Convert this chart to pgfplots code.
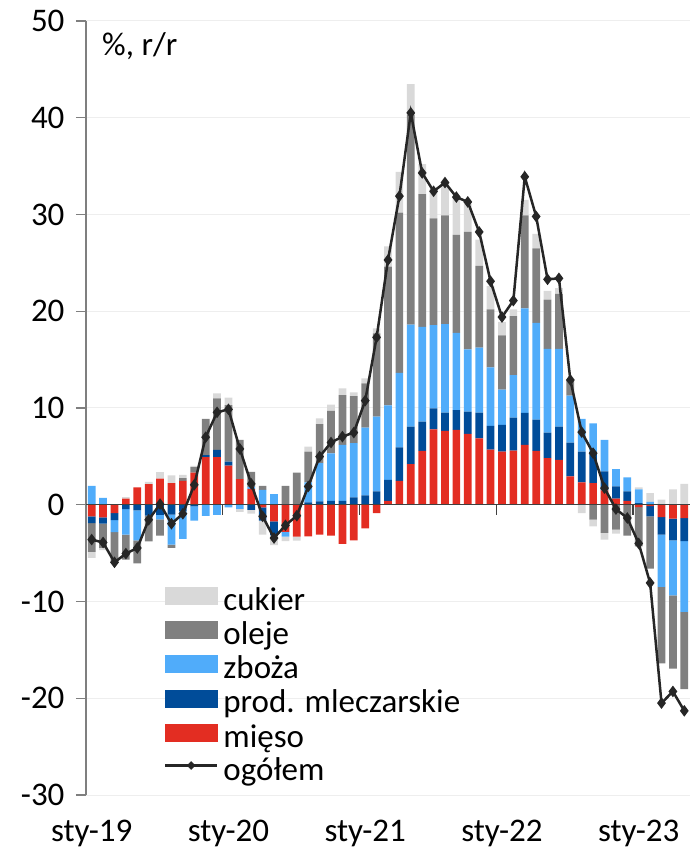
\documentclass[border=0pt]{standalone}
\usepackage{fontspec}
\setmainfont{Carlito}
\usepackage{pgfplots}
\usepackage{pgfplotstable}
\pgfplotsset{compat=1.18}
\definecolor{cukier}{HTML}{D9D9D9}
\definecolor{oleje}{HTML}{808080}
\definecolor{zboza}{HTML}{50ACFA}
\definecolor{mlecz}{HTML}{004C99}
\definecolor{mieso}{HTML}{E32D22}
\definecolor{linec}{HTML}{262626}
\definecolor{gridc}{HTML}{EEEEEE}
\definecolor{axisc}{HTML}{7F7F7F}
\definecolor{zeroc}{HTML}{404040}

\pgfplotstableread{
i m d c o s t
0 -1.20 -0.69 1.96 -2.99 -0.62 -3.60
1 -1.30 -0.65 0.72 -2.50 -0.24 -3.90
2 -0.86 -0.72 -1.24 -3.10 0.00 -5.95
3 0.62 -0.45 -2.65 -2.58 0.17 -5.05
4 1.79 -0.58 -3.09 -2.40 0.00 -4.47
5 2.13 -1.13 0.00 -2.65 0.24 -1.55
6 2.71 -1.05 -0.45 -1.70 0.67 0.07
7 2.23 -1.03 -3.09 -0.34 0.80 -1.96
8 2.47 -0.69 -2.85 0.27 0.34 -0.93
9 3.33 -0.17 -1.48 0.55 0.14 2.06
10 4.91 0.22 -1.15 3.75 0.00 6.98
11 4.91 0.76 -1.05 5.33 0.52 9.55
12 4.05 0.40 -0.27 5.84 0.79 9.86
13 2.65 0.00 -0.43 4.05 -0.30 5.77
14 1.65 -0.52 0.20 1.55 -0.41 2.16
15 -0.27 -1.36 1.55 0.41 -1.46 -1.20
16 -1.72 -1.45 1.10 0.00 -1.00 -3.44
17 -2.80 0.00 -0.50 1.96 -0.45 -2.13
18 -3.30 0.00 0.00 3.33 -0.40 -1.13
19 -3.26 0.24 2.06 3.20 0.52 1.89
20 -3.09 0.34 3.95 4.05 0.58 4.98
21 -3.20 0.41 4.90 4.40 0.65 6.43
22 -4.05 0.41 5.77 5.15 0.69 7.04
23 -3.68 0.76 5.60 4.88 0.38 7.46
24 -2.44 0.96 7.01 4.57 0.52 10.76
25 -0.86 1.37 7.73 8.60 0.52 17.30
26 0.41 2.16 7.70 14.33 2.10 25.30
27 2.47 3.47 7.70 16.56 4.20 31.90
28 4.19 3.89 10.55 21.67 3.17 40.50
29 5.57 3.02 9.79 13.72 3.10 34.30
30 7.80 2.17 8.59 11.04 3.05 32.40
31 7.63 1.89 9.14 11.24 3.40 33.30
32 7.73 2.06 7.98 10.13 3.90 31.80
33 7.32 2.30 6.43 12.15 2.90 31.30
34 6.85 2.67 6.73 8.45 2.70 28.20
35 5.70 2.44 6.06 6.00 2.40 23.10
36 5.50 2.75 3.65 5.60 1.40 19.40
37 5.60 3.40 4.40 6.10 0.70 21.10
38 6.20 3.30 10.80 9.60 1.60 33.90
39 5.57 3.23 10.00 7.70 1.50 29.80
40 4.81 2.65 8.64 5.10 0.90 23.30
41 4.64 3.44 8.02 5.70 0.60 23.40
42 2.92 3.51 4.84 1.63 0.00 12.90
43 2.30 3.20 3.37 0.00 -0.86 7.50
44 2.23 3.27 2.92 -1.55 -0.69 5.33
45 1.48 1.96 3.26 -2.92 -0.69 1.72
46 0.62 1.27 1.79 -2.58 -0.41 -0.45
47 0.41 0.96 1.45 -3.20 0.00 -1.37
48 -0.24 0.17 1.43 -4.05 0.20 -4.00
49 -0.15 -1.05 0.30 -5.40 0.90 -8.08
50 -1.27 -1.82 -5.40 -7.90 0.52 -20.50
51 -1.44 -2.23 -5.70 -7.56 1.60 -19.30
52 -1.37 -2.40 -7.30 -8.00 2.16 -21.30
}\data

\newcommand\boxleg[1]{\addlegendimage{legend image code/.code={\fill[#1] (0pt,0.5pt) rectangle (52pt,17.5pt);}}}
\newcommand\bigfont{\fontsize{33}{40}\selectfont}

\begin{document}
\begin{tikzpicture}
\pgfplotsset{base/.style={scale only axis, width=604pt, height=774pt,
  xmin=-0.5, xmax=52.5, ymin=-30, ymax=50, at={(0pt,0pt)}, anchor=south west}}
% positive parts
\begin{axis}[base, ybar stacked, bar width=7.7pt,
  axis lines*=left, x axis line style={draw=none},
  y axis line style={axisc, line width=1.2pt},
  xtick={0,12,24,36,48}, xticklabels={sty-19,sty-20,sty-21,sty-22,sty-23},
  xtick style={draw=none},
  ytick={-30,-20,-10,0,10,20,30,40,50},
  yticklabels={-30,-20,-10,0,10,20,30,40,50},
  ytick style={axisc, line width=1.2pt},
  tick align=outside, major tick length=10pt,
  ymajorgrids, major grid style={gridc, line width=1pt},
  tick label style={font=\bigfont, text=black},
  yticklabel style={xshift=-8pt},
  xticklabel style={yshift=-12pt},
  ]
\addplot[fill=mieso, draw=none] table[x=i, y expr={max(\thisrow{m},0)}]{\data};
\addplot[fill=mlecz, draw=none] table[x=i, y expr={max(\thisrow{d},0)}]{\data};
\addplot[fill=zboza, draw=none] table[x=i, y expr={max(\thisrow{c},0)}]{\data};
\addplot[fill=oleje, draw=none] table[x=i, y expr={max(\thisrow{o},0)}]{\data};
\addplot[fill=cukier, draw=none] table[x=i, y expr={max(\thisrow{s},0)}]{\data};
\end{axis}
% negative parts
\begin{axis}[base, ybar stacked, bar width=7.7pt, hide axis]
\addplot[fill=mieso, draw=none] table[x=i, y expr={min(\thisrow{m},0)}]{\data};
\addplot[fill=mlecz, draw=none] table[x=i, y expr={min(\thisrow{d},0)}]{\data};
\addplot[fill=zboza, draw=none] table[x=i, y expr={min(\thisrow{c},0)}]{\data};
\addplot[fill=oleje, draw=none] table[x=i, y expr={min(\thisrow{o},0)}]{\data};
\addplot[fill=cukier, draw=none] table[x=i, y expr={min(\thisrow{s},0)}]{\data};
\end{axis}
% line, zero axis, legend
\begin{axis}[base, hide axis,
  legend style={at={(0.129,0.2687)}, anchor=north west, draw=none, fill=none,
    inner sep=0pt, outer sep=0pt, font=\bigfont, row sep=0pt, /tikz/column sep=5pt,
    nodes={inner sep=0pt, text height=22pt, text depth=11pt}},
  legend cell align=left]
\draw[zeroc, line width=1.5pt] (axis cs:-0.5,0) -- (axis cs:52.5,0);
\draw[zeroc, line width=1.2pt] (axis cs:11.5,0) -- ++(0pt,-10pt);
\draw[zeroc, line width=1.2pt] (axis cs:23.5,0) -- ++(0pt,-10pt);
\draw[zeroc, line width=1.2pt] (axis cs:35.5,0) -- ++(0pt,-10pt);
\draw[zeroc, line width=1.2pt] (axis cs:47.5,0) -- ++(0pt,-10pt);
\node[anchor=base west, inner sep=0pt, xshift=16pt, yshift=-35pt, font=\bigfont] at (rel axis cs:0,1) {\%, r/r};
\boxleg{cukier}\addlegendentry{cukier}
\boxleg{oleje}\addlegendentry{oleje}
\boxleg{zboza}\addlegendentry{zboża}
\boxleg{mlecz}\addlegendentry{prod. mleczarskie}
\boxleg{mieso}\addlegendentry{mięso}
\addlegendimage{legend image code/.code={\draw[linec, line width=2.5pt] (0pt,9pt) -- (52pt,9pt); \fill[linec] (22pt,9pt) -- (26pt,13pt) -- (30pt,9pt) -- (26pt,5pt) -- cycle;}}
\addlegendentry{ogółem}
\addplot[linec, line width=2.5pt, mark=diamond*, mark size=3.8pt, mark options={solid, fill=linec}, forget plot] table[x=i, y=t]{\data};
\end{axis}
\pgfresetboundingbox
\useasboundingbox (-86pt,-59pt) rectangle (604pt,795pt);
\end{tikzpicture}
\end{document}
